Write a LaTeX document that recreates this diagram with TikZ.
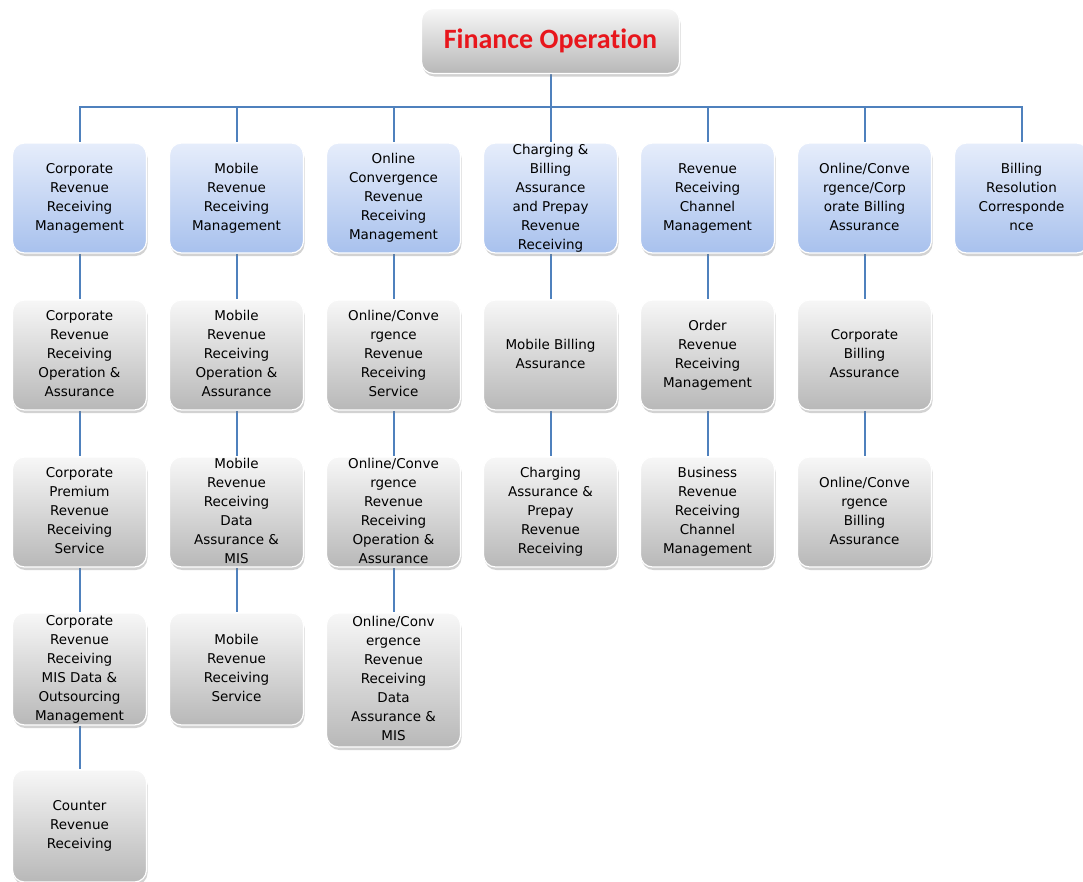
\documentclass[tikz,border=0pt]{standalone}
\usepackage{fontspec}
\setmainfont{DejaVu Sans}
\newfontfamily\titlefont[Ligatures=NoCommon]{Carlito}
\usetikzlibrary{shadows,backgrounds}
\definecolor{bluetop}{RGB}{230,237,251}
\definecolor{bluebot}{RGB}{168,193,237}
\definecolor{greytop}{RGB}{247,247,247}
\definecolor{greybot}{RGB}{184,184,184}
\definecolor{linkblue}{RGB}{79,129,189}
\definecolor{titlered}{RGB}{232,22,28}
\newcommand{\bt}[1]{\smash{\raisebox{-3.5pt}{\begin{tabular}{@{}c@{}}#1\end{tabular}}}}
\tikzset{
  box/.style={rectangle, rounded corners=12pt, minimum width=134pt, minimum height=110pt,
    inner sep=0pt, draw=white, line width=1.2pt,
    drop shadow={shadow xshift=1pt, shadow yshift=-3pt, opacity=0.35},
    font=\fontsize{13.5}{19}\selectfont, text=black},
  lvone/.style={box, top color=bluetop, bottom color=bluebot},
  lvtwo/.style={box, top color=greytop, bottom color=greybot},
  link/.style={draw=linkblue, line width=2pt}
}
\begin{document}
\begin{tikzpicture}[x=1pt,y=-1pt]
\begin{pgfonlayer}{background}
\fill[white] (0,0) rectangle (1083,881);
\end{pgfonlayer}
\useasboundingbox (0,0) rectangle (1083,881);

\node[box, top color=greytop, bottom color=greybot, minimum width=258pt, minimum height=65pt,
  font=\titlefont\bfseries\fontsize{28}{32}\selectfont, text=titlered] (root) at (550.5,41) {Finance Operation};
\coordinate (bus) at (550.5,107);

% column 1
\node[lvone] (a1) at (79.5,198) {\bt{Corporate\\Revenue\\Receiving\\Management}};
\node[lvtwo] (a2) at (79.5,355) {\bt{Corporate\\Revenue\\Receiving\\Operation \&\\Assurance}};
\node[lvtwo] (a3) at (79.5,512) {\bt{Corporate\\Premium\\Revenue\\Receiving\\Service}};
\node[lvtwo, minimum height=112pt] (a4) at (79.5,669) {\bt{Corporate\\Revenue\\Receiving\\MIS Data \&\\Outsourcing\\Management}};
\node[lvtwo, minimum height=112pt] (a5) at (79.5,826) {\bt{Counter\\Revenue\\Receiving}};
% column 2
\node[lvone] (b1) at (236.5,198) {\bt{Mobile\\Revenue\\Receiving\\Management}};
\node[lvtwo] (b2) at (236.5,355) {\bt{Mobile\\Revenue\\Receiving\\Operation \&\\Assurance}};
\node[lvtwo] (b3) at (236.5,512) {\bt{Mobile\\Revenue\\Receiving\\Data\\Assurance \&\\MIS}};
\node[lvtwo, minimum height=112pt] (b4) at (236.5,669) {\bt{Mobile\\Revenue\\Receiving\\Service}};
% column 3
\node[lvone] (c1) at (393.5,198) {\bt{Online\\Convergence\\Revenue\\Receiving\\Management}};
\node[lvtwo] (c2) at (393.5,355) {\bt{Online/Conve\\rgence\\Revenue\\Receiving\\Service}};
\node[lvtwo] (c3) at (393.5,512) {\bt{Online/Conve\\rgence\\Revenue\\Receiving\\Operation \&\\Assurance}};
\node[lvtwo, minimum height=134pt] (c4) at (393.5,680) {\bt{Online/Conv\\ergence\\Revenue\\Receiving\\Data\\Assurance \&\\MIS}};
% column 4
\node[lvone] (d1) at (550.5,198) {\bt{Charging \&\\Billing\\Assurance\\and Prepay\\Revenue\\Receiving}};
\node[lvtwo] (d2) at (550.5,355) {\bt{Mobile Billing\\Assurance}};
\node[lvtwo] (d3) at (550.5,512) {\bt{Charging\\Assurance \&\\Prepay\\Revenue\\Receiving}};
% column 5
\node[lvone] (e1) at (707.5,198) {\bt{Revenue\\Receiving\\Channel\\Management}};
\node[lvtwo] (e2) at (707.5,355) {\bt{Order\\Revenue\\Receiving\\Management}};
\node[lvtwo] (e3) at (707.5,512) {\bt{Business\\Revenue\\Receiving\\Channel\\Management}};
% column 6
\node[lvone] (f1) at (864.5,198) {\bt{Online/Conve\\rgence/Corp\\orate Billing\\Assurance}};
\node[lvtwo] (f2) at (864.5,355) {\bt{Corporate\\Billing\\Assurance}};
\node[lvtwo] (f3) at (864.5,512) {\bt{Online/Conve\\rgence\\Billing\\Assurance}};
% column 7
\node[lvone] (g1) at (1021.5,198) {\bt{Billing\\Resolution\\Corresponde\\nce}};

\begin{pgfonlayer}{background}
\draw[link] (root.south) -- (bus);
\foreach \n in {a1,b1,c1,d1,e1,f1,g1} \draw[link] (bus) -| (\n.north);
\draw[link] (a1) -- (a2) -- (a3) -- (a4) -- (a5);
\draw[link] (b1) -- (b2) -- (b3) -- (b4);
\draw[link] (c1) -- (c2) -- (c3) -- (c4);
\draw[link] (d1) -- (d2) -- (d3);
\draw[link] (e1) -- (e2) -- (e3);
\draw[link] (f1) -- (f2) -- (f3);
\end{pgfonlayer}
\end{tikzpicture}
\end{document}
